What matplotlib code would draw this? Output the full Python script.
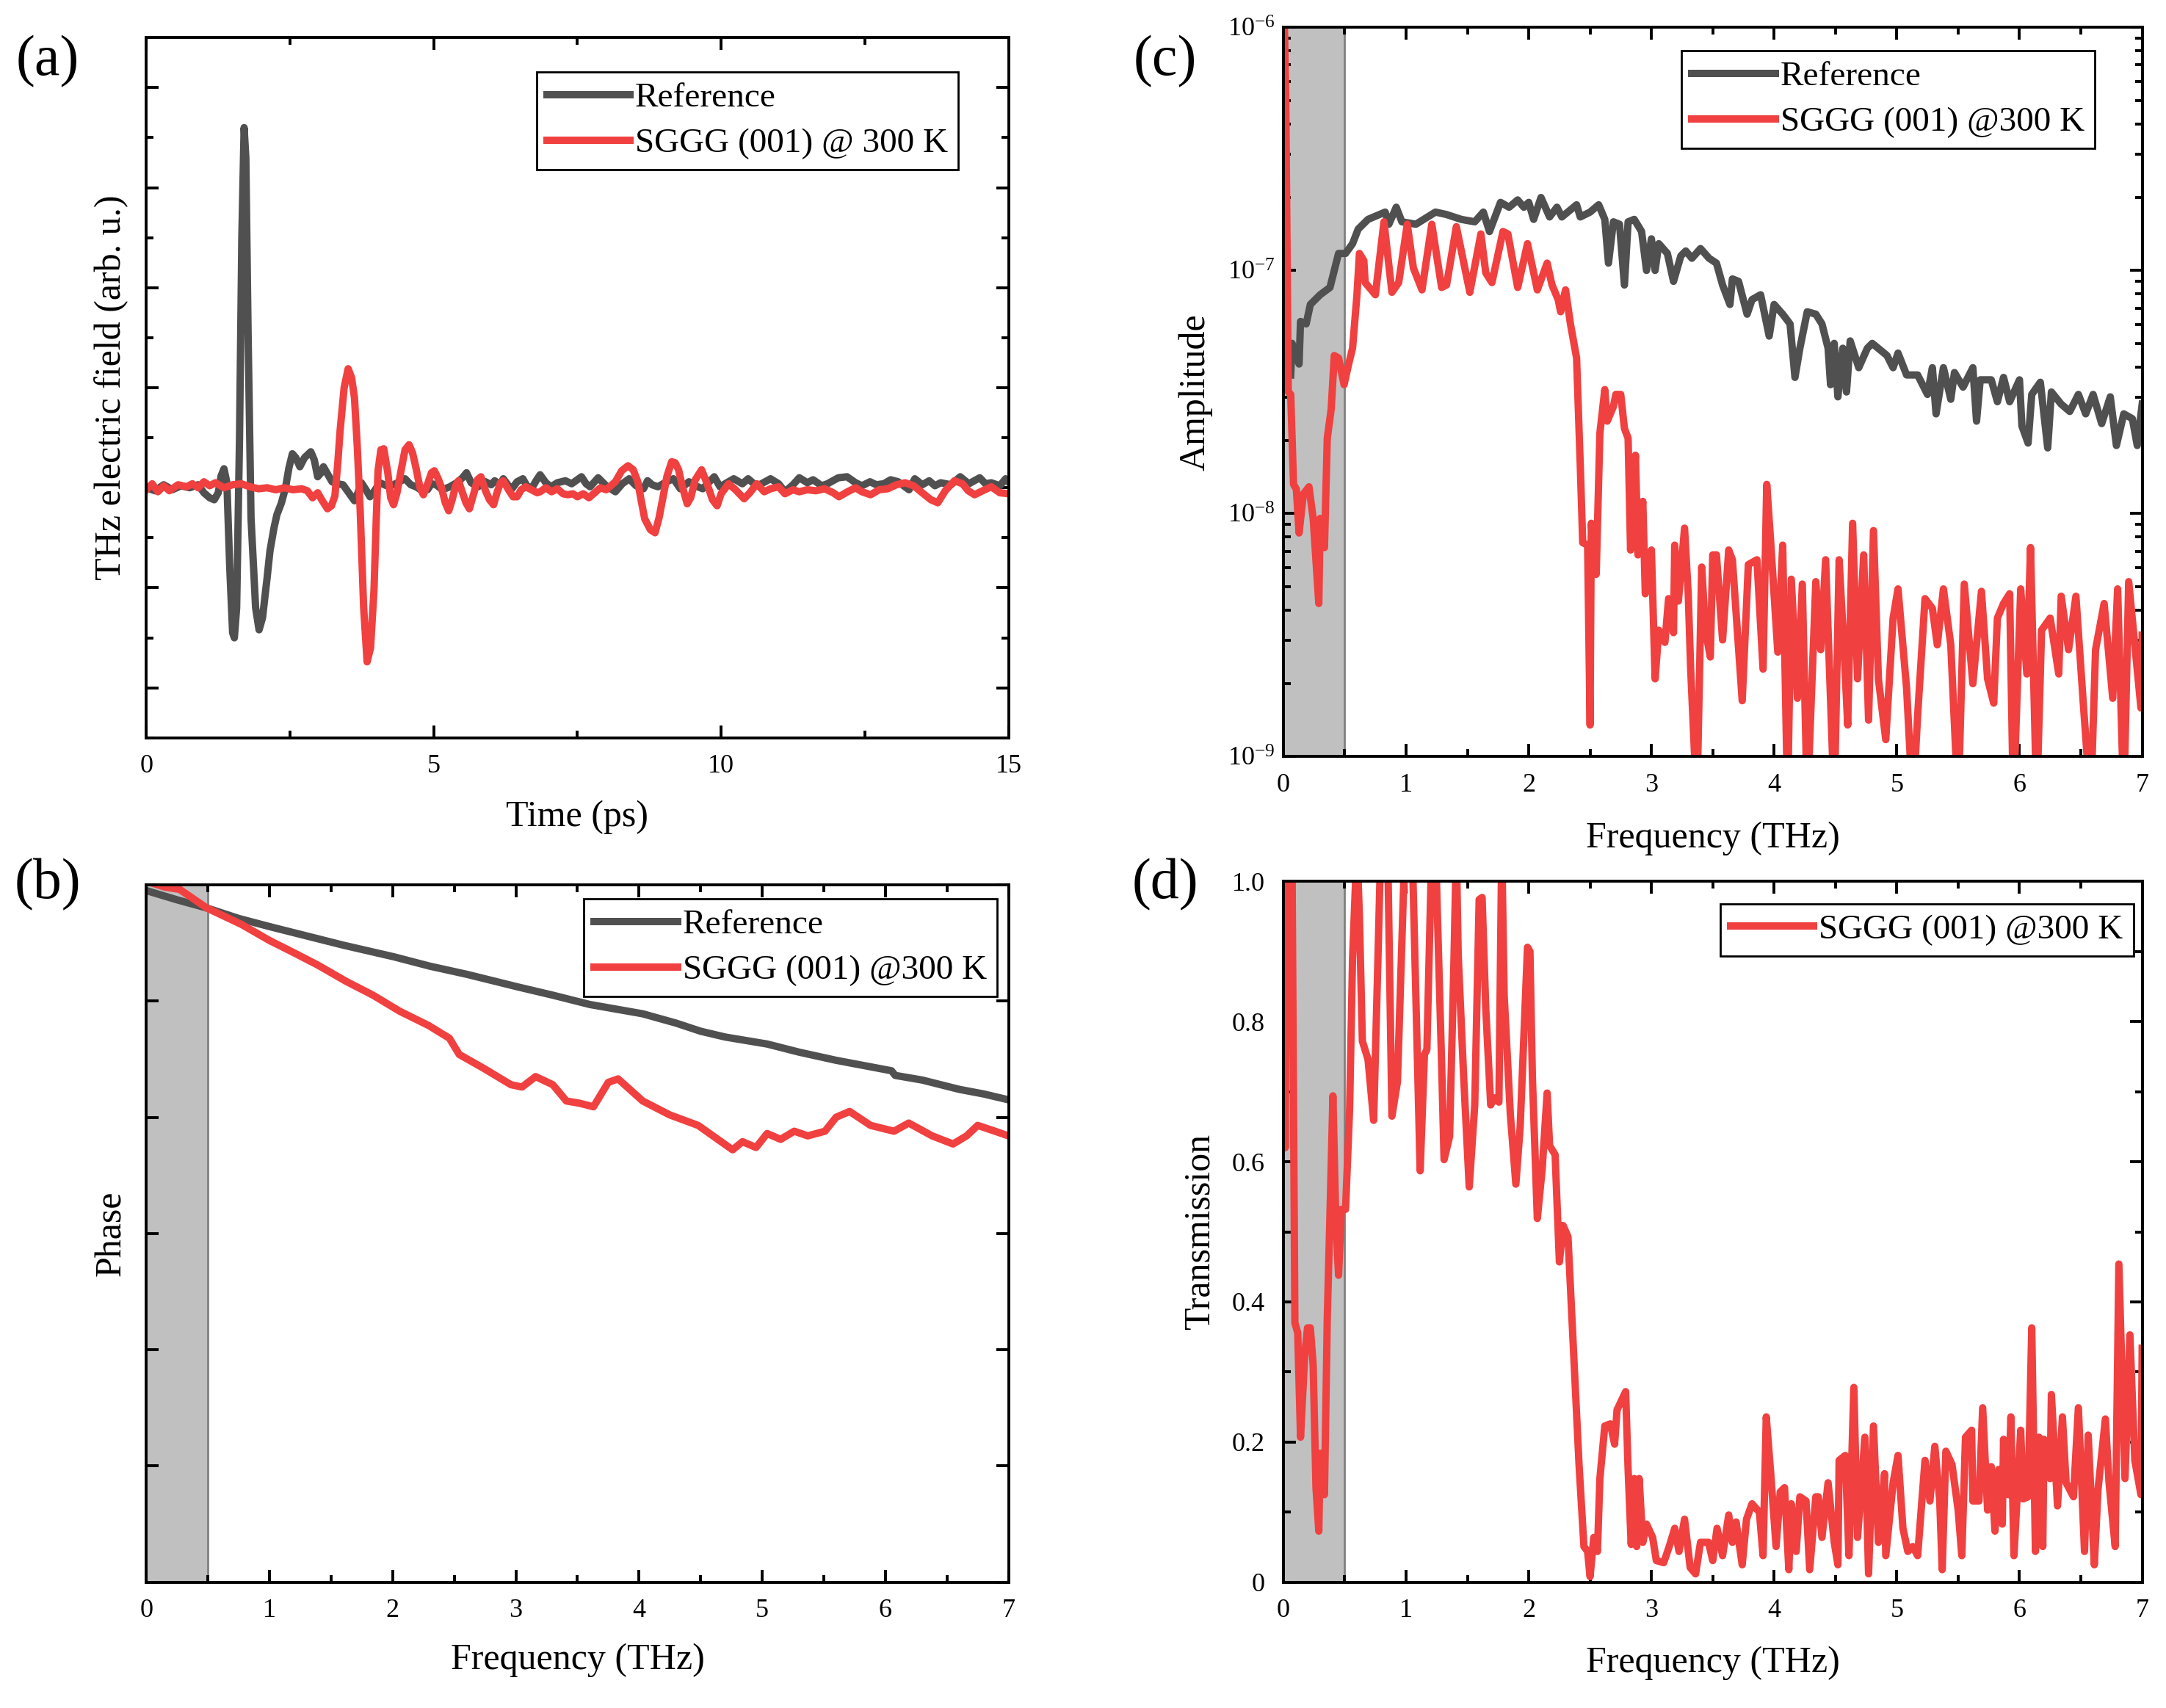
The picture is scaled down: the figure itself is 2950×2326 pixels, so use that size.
import matplotlib
matplotlib.use("Agg")
import matplotlib.pyplot as plt
from matplotlib.ticker import MultipleLocator, NullFormatter, LogLocator
import numpy as np

plt.rcParams['font.family'] = ['Liberation Serif', 'DejaVu Serif']
plt.rcParams['mathtext.fontset'] = 'stix'

GRAY = '#505050'
RED = '#f04040'
SPAN = '#c0c0c0'

# ---- (a) time domain, arb. units ----
t_ref = [0.0, 0.15, 0.3, 0.45, 0.6, 0.75, 0.9, 1.0, 1.1, 1.18, 1.25, 1.3, 1.35, 1.4, 1.45,
         1.5, 1.53, 1.57, 1.62, 1.66, 1.7, 1.73, 1.77, 1.82, 1.9, 1.96, 2.02, 2.1, 2.15, 2.22,
         2.27, 2.35, 2.42, 2.48, 2.54, 2.6, 2.67, 2.75, 2.86, 2.92, 2.98, 3.04, 3.08, 3.15,
         3.23, 3.32, 3.42, 3.52, 3.62, 3.68, 3.74, 3.82, 3.89, 3.97, 4.06, 4.18, 4.3, 4.4,
         4.5, 4.6, 4.69, 4.8, 4.89, 4.96, 5.04, 5.15, 5.28, 5.4, 5.5, 5.57, 5.65, 5.77, 5.9,
         6.0, 6.06, 6.15, 6.21, 6.3, 6.36, 6.45, 6.55, 6.62, 6.7, 6.78, 6.85, 6.95, 7.04,
         7.15, 7.29, 7.4, 7.57, 7.65, 7.72, 7.86, 8.0, 8.16, 8.28, 8.4, 8.52, 8.65, 8.72,
         8.8, 8.9, 9.05, 9.17, 9.29, 9.44, 9.55, 9.68, 9.88, 9.98, 10.1, 10.22, 10.37, 10.47,
         10.57, 10.67, 10.86, 11.0, 11.11, 11.25, 11.36, 11.5, 11.6, 11.75, 11.85, 12.04,
         12.19, 12.34, 12.45, 12.59, 12.7, 12.83, 12.95, 13.08, 13.27, 13.37, 13.5, 13.62,
         13.72, 13.82, 14.0, 14.16, 14.31, 14.5, 14.6, 14.7, 14.85, 14.95, 15.0]
e_ref = [0.0, -0.03, 0.03, -0.02, 0.02, 0.0, 0.03, -0.05, -0.1, -0.12, -0.05, 0.12, 0.19,
         0.05, -0.8, -1.45, -1.5, -1.2, 0.5, 2.5, 3.6, 3.3, 1.5, -0.3, -1.2, -1.42, -1.3,
         -0.9, -0.63, -0.4, -0.27, -0.15, 0.0, 0.2, 0.34, 0.3, 0.21, 0.3, 0.36, 0.28, 0.11,
         0.15, 0.21, 0.14, 0.06, 0.04, 0.03, -0.05, -0.13, -0.05, 0.05, -0.02, -0.09, -0.03,
         0.05, 0.02, 0.03, 0.06, 0.09, 0.03, 0.01, -0.03, -0.02, 0.04, 0.03, -0.02, 0.01,
         0.05, 0.1, 0.15, 0.05, 0.01, 0.06, 0.03, 0.07, 0.03, 0.09, 0.02, -0.01, 0.06, 0.09,
         0.02, -0.01, 0.07, 0.13, 0.05, 0.01, 0.05, 0.07, 0.04, 0.11, 0.04, 0.01, 0.1, 0.02,
         -0.04, 0.04, 0.09, 0.02, -0.01, 0.07, 0.03, 0.01, 0.06, 0.09, -0.01, 0.06, 0.02,
         -0.01, 0.11, 0.01, 0.05, 0.09, 0.04, 0.09, 0.04, 0.03, 0.09, 0.04, -0.04, 0.03,
         0.1, 0.05, 0.08, 0.02, 0.04, 0.1, 0.11, 0.05, 0.02, 0.06, 0.03, 0.04, 0.08, 0.06,
         -0.02, 0.09, 0.03, 0.07, 0.02, 0.05, 0.03, 0.11, 0.04, 0.1, 0.04, 0.05, 0.02, 0.09,
         0.06]

t_sam = [0.0, 0.1, 0.2, 0.3, 0.4, 0.55, 0.7, 0.8, 0.9, 1.0, 1.1, 1.2, 1.35, 1.5, 1.65, 1.8,
         1.95, 2.1, 2.25, 2.4, 2.55, 2.7, 2.8, 2.89, 2.98, 3.05, 3.15, 3.22, 3.28, 3.33, 3.37,
         3.44, 3.51, 3.57, 3.62, 3.67, 3.72, 3.78, 3.84, 3.9, 3.96, 4.0, 4.03, 4.08, 4.13,
         4.2, 4.25, 4.3, 4.36, 4.43, 4.5, 4.57, 4.63, 4.69, 4.76, 4.82, 4.9, 4.96, 5.01,
         5.07, 5.13, 5.2, 5.26, 5.32, 5.38, 5.43, 5.5, 5.56, 5.62, 5.7, 5.76, 5.82, 5.9,
         5.97, 6.04, 6.1, 6.16, 6.21, 6.3, 6.38, 6.45, 6.52, 6.6, 6.7, 6.8, 6.85, 6.95,
         7.05, 7.15, 7.25, 7.33, 7.42, 7.5, 7.6, 7.7, 7.8, 7.9, 8.0, 8.16, 8.27, 8.38, 8.47,
         8.55, 8.6, 8.67, 8.77, 8.85, 8.92, 8.99, 9.06, 9.14, 9.2, 9.26, 9.33, 9.41, 9.47,
         9.55, 9.66, 9.75, 9.85, 9.93, 10.0, 10.13, 10.25, 10.4, 10.5, 10.62, 10.75, 10.86,
         11.0, 11.11, 11.25, 11.36, 11.5, 11.65, 11.8, 11.95, 12.05, 12.2, 12.34, 12.45,
         12.6, 12.75, 12.9, 13.05, 13.2, 13.35, 13.52, 13.65, 13.77, 13.9, 14.06, 14.2,
         14.3, 14.41, 14.55, 14.7, 14.85, 15.0]
e_sam = [-0.02, 0.04, -0.04, 0.02, -0.03, 0.03, 0.01, 0.04, 0.0, 0.06, 0.02, 0.05, 0.0,
         0.03, 0.04, 0.01, -0.01, 0.0, -0.02, 0.0, -0.02, -0.01, -0.03, -0.1, -0.05, -0.12,
         -0.21, -0.18, -0.08, 0.25, 0.57, 1.0, 1.19, 1.1, 0.9, 0.4, -0.23, -1.2, -1.74,
         -1.6, -1.02, -0.3, 0.17, 0.38, 0.39, 0.15, -0.1, -0.17, -0.05, 0.17, 0.38, 0.43,
         0.35, 0.2, 0.0, -0.07, 0.05, 0.15, 0.17, 0.1, 0.01, -0.15, -0.23, -0.12, 0.02,
         0.07, -0.05, -0.15, -0.21, -0.05, 0.08, 0.11, -0.03, -0.12, -0.17, -0.05, 0.05,
         0.07, -0.02, -0.09, -0.09, -0.02, 0.01, -0.02, -0.05, -0.04, 0.0, -0.04, -0.01,
         -0.06, -0.07, -0.06, -0.09, -0.06, -0.1, -0.05, 0.0, -0.02, 0.06, 0.17, 0.22,
         0.18, 0.06, -0.1, -0.31, -0.42, -0.45, -0.3, -0.09, 0.12, 0.26, 0.25, 0.18, 0.0,
         -0.16, -0.1, 0.08, 0.18, 0.05, -0.12, -0.18, -0.06, 0.04, -0.02, -0.11, -0.05,
         0.04, -0.04, -0.01, 0.01, -0.06, -0.02, -0.04, -0.02, -0.03, -0.01, -0.05, -0.09,
         -0.04, 0.0, -0.04, -0.07, -0.02, -0.01, 0.03, 0.05, 0.02, -0.06, -0.12, -0.15,
         -0.03, 0.07, 0.04, -0.03, -0.07, -0.03, 0.01, -0.05, -0.06]

# ---- (b) phase, arb. units ----
f_ph_ref = [0.03, 0.25, 0.49, 0.75, 1.0, 1.3, 1.6, 2.01, 2.3, 2.6, 3.02, 3.3, 3.6, 4.03,
            4.3, 4.5, 4.7, 5.04, 5.3, 5.6, 6.05, 6.08, 6.3, 6.6, 6.8, 7.0]
ph_ref = [5.94, 5.87, 5.80, 5.71, 5.64, 5.56, 5.48, 5.38, 5.30, 5.23, 5.12, 5.05, 4.97,
          4.89, 4.81, 4.74, 4.69, 4.63, 4.56, 4.49, 4.40, 4.36, 4.32, 4.24, 4.20, 4.15]
f_ph_sam = [0.03, 0.15, 0.27, 0.49, 0.77, 1.0, 1.17, 1.39, 1.62, 1.84, 2.06, 2.29, 2.46,
            2.54, 2.74, 2.96, 3.05, 3.16, 3.3, 3.41, 3.52, 3.63, 3.75, 3.83, 4.03, 4.25,
            4.48, 4.64, 4.76, 4.84, 4.95, 5.04, 5.15, 5.26, 5.37, 5.51, 5.6, 5.71, 5.88,
            6.07, 6.19, 6.38, 6.55, 6.66, 6.75, 6.89, 7.0]
ph_sam = [6.02, 5.98, 5.96, 5.80, 5.66, 5.52, 5.43, 5.31, 5.17, 5.05, 4.91, 4.79, 4.68,
          4.54, 4.42, 4.28, 4.26, 4.35, 4.28, 4.14, 4.12, 4.09, 4.30, 4.33, 4.14, 4.02,
          3.93, 3.81, 3.72, 3.79, 3.74, 3.86, 3.81, 3.88, 3.84, 3.88, 4.00, 4.05, 3.93,
          3.88, 3.95, 3.84, 3.77, 3.84, 3.93, 3.88, 3.84]

# ---- (c) amplitude spectra, log10 values ----
f_amp_ref = [0.06, 0.071, 0.128, 0.14, 0.186, 0.22, 0.3, 0.38, 0.415, 0.45, 0.507, 0.564,
             0.61, 0.69, 0.83, 0.86, 0.92, 0.966, 1.08, 1.24, 1.33, 1.45, 1.56, 1.63, 1.68,
             1.77, 1.84, 1.91, 1.96, 2.0, 2.04, 2.1, 2.17, 2.23, 2.27, 2.39, 2.42, 2.5,
             2.57, 2.62, 2.65, 2.69, 2.74, 2.78, 2.81, 2.86, 2.92, 2.96, 3.0, 3.03, 3.06,
             3.13, 3.18, 3.24, 3.28, 3.33, 3.4, 3.47, 3.53, 3.58, 3.64, 3.66, 3.71, 3.78,
             3.82, 3.89, 3.96, 4.0, 4.07, 4.13, 4.17, 4.21, 4.27, 4.34, 4.39, 4.44, 4.46,
             4.49, 4.52, 4.56, 4.59, 4.62, 4.69, 4.76, 4.8, 4.92, 4.97, 5.01, 5.08, 5.17,
             5.25, 5.29, 5.32, 5.38, 5.44, 5.47, 5.54, 5.62, 5.65, 5.68, 5.77, 5.82, 5.87,
             5.92, 6.0, 6.02, 6.07, 6.1, 6.17, 6.23, 6.26, 6.34, 6.41, 6.48, 6.54, 6.6,
             6.67, 6.74, 6.79, 6.85, 6.92, 6.96, 7.0]
log_amp_ref = [-7.43, -7.30, -7.385, -7.21, -7.22, -7.14, -7.10, -7.07, -7.0, -6.93,
               -6.93, -6.89, -6.83, -6.79, -6.76, -6.81, -6.74, -6.80, -6.81, -6.76,
               -6.77, -6.79, -6.80, -6.76, -6.84, -6.72, -6.74, -6.71, -6.74, -6.72,
               -6.79, -6.70, -6.78, -6.74, -6.78, -6.73, -6.78, -6.76, -6.73, -6.79,
               -6.97, -6.80, -6.81, -7.06, -6.80, -6.79, -6.84, -7.0, -6.87, -7.0, -6.89,
               -6.93, -7.045, -6.94, -6.92, -6.95, -6.91, -6.95, -6.97, -7.06, -7.14,
               -7.035, -7.045, -7.18, -7.12, -7.10, -7.27, -7.14, -7.18, -7.22, -7.44,
               -7.32, -7.17, -7.18, -7.22, -7.32, -7.47, -7.30, -7.52, -7.32, -7.50,
               -7.29, -7.40, -7.32, -7.30, -7.35, -7.40, -7.34, -7.43, -7.43, -7.51,
               -7.40, -7.59, -7.40, -7.53, -7.42, -7.48, -7.40, -7.62, -7.45, -7.45,
               -7.54, -7.44, -7.54, -7.45, -7.64, -7.71, -7.51, -7.46, -7.73, -7.50,
               -7.55, -7.58, -7.51, -7.59, -7.51, -7.63, -7.52, -7.72, -7.59, -7.61,
               -7.72, -7.55]
f_amp_sam = [0.005, 0.02, 0.03, 0.04, 0.06, 0.083, 0.106, 0.128, 0.163, 0.209, 0.243,
             0.289, 0.3, 0.335, 0.358, 0.39, 0.415, 0.45, 0.495, 0.53, 0.564, 0.6, 0.62,
             0.656, 0.667, 0.75, 0.82, 0.885, 0.94, 1.01, 1.06, 1.13, 1.21, 1.29, 1.33,
             1.41, 1.52, 1.61, 1.65, 1.7, 1.79, 1.83, 1.91, 1.99, 2.07, 2.15, 2.19, 2.24,
             2.26, 2.3, 2.34, 2.39, 2.42, 2.44, 2.48, 2.5, 2.51, 2.55, 2.58, 2.62, 2.64,
             2.69, 2.71, 2.75, 2.78, 2.81, 2.83, 2.87, 2.89, 2.93, 2.95, 3.0, 3.03, 3.06,
             3.11, 3.14, 3.18, 3.19, 3.22, 3.27, 3.3, 3.32, 3.37, 3.41, 3.44, 3.48, 3.5,
             3.53, 3.58, 3.63, 3.66, 3.74, 3.79, 3.86, 3.91, 3.94, 3.97, 4.03, 4.07, 4.11,
             4.14, 4.19, 4.23, 4.27, 4.34, 4.38, 4.42, 4.49, 4.53, 4.57, 4.6, 4.64, 4.68,
             4.73, 4.77, 4.81, 4.85, 4.91, 4.97, 5.01, 5.08, 5.13, 5.17, 5.23, 5.29, 5.33,
             5.38, 5.44, 5.5, 5.55, 5.62, 5.69, 5.74, 5.79, 5.82, 5.87, 5.92, 5.95, 6.01,
             6.06, 6.09, 6.14, 6.18, 6.25, 6.32, 6.34, 6.4, 6.46, 6.52, 6.58, 6.62, 6.69,
             6.76, 6.8, 6.85, 6.89, 6.94, 6.99, 7.0]
log_amp_sam = [-5.9, -6.3, -6.9, -7.5, -7.51, -7.88, -7.90, -8.08, -7.92, -7.89, -8.02,
               -8.37, -8.02, -8.14, -7.69, -7.57, -7.35, -7.36, -7.47, -7.39, -7.32,
               -7.10, -6.93, -6.96, -7.05, -7.10, -6.80, -7.09, -7.05, -6.81, -6.99,
               -7.08, -6.81, -7.07, -7.06, -6.82, -7.09, -6.85, -7.01, -7.05, -6.84,
               -6.85, -7.07, -6.89, -7.08, -6.97, -7.06, -7.12, -7.17, -7.08, -7.22,
               -7.36, -7.80, -8.12, -8.13, -8.87, -8.04, -8.25, -7.67, -7.49, -7.62,
               -7.56, -7.51, -7.51, -7.65, -7.69, -8.15, -7.76, -8.17, -7.95, -8.33,
               -8.15, -8.68, -8.48, -8.53, -8.35, -8.49, -8.13, -8.36, -8.06, -8.33,
               -8.64, -9.2, -8.22, -8.48, -8.59, -8.17, -8.17, -8.52, -8.15, -8.19,
               -8.77, -8.21, -8.19, -8.64, -7.88, -8.10, -8.57, -8.13, -9.2, -8.27,
               -8.76, -8.29, -9.2, -8.28, -8.56, -8.19, -9.2, -8.19, -8.56, -8.87, -8.04,
               -8.68, -8.17, -8.85, -8.07, -8.68, -8.93, -8.43, -8.31, -8.72, -9.2, -8.83,
               -8.35, -8.39, -8.54, -8.31, -8.54, -9.2, -8.29, -8.70, -8.32, -8.68, -8.78,
               -8.43, -8.37, -8.33, -9.2, -8.31, -8.66, -8.14, -9.2, -8.48, -8.43, -8.66,
               -8.34, -8.56, -8.34, -8.78, -9.2, -8.56, -8.37, -8.76, -8.31, -9.2, -8.28,
               -8.54, -8.80, -8.50]

# ---- (d) transmission ----
f_tr = [0.0, 0.015, 0.03, 0.05, 0.07, 0.094, 0.117, 0.14, 0.174, 0.197, 0.22, 0.243,
        0.266, 0.289, 0.3, 0.335, 0.358, 0.38, 0.404, 0.427, 0.45, 0.472, 0.507, 0.54,
        0.564, 0.6, 0.62, 0.644, 0.69, 0.736, 0.77, 0.794, 0.85, 0.885, 0.93, 0.977,
        0.99, 1.05, 1.115, 1.15, 1.17, 1.21, 1.24, 1.29, 1.31, 1.355, 1.39, 1.41, 1.425,
        1.47, 1.515, 1.56, 1.596, 1.62, 1.65, 1.69, 1.72, 1.757, 1.78, 1.8, 1.85, 1.895,
        1.93, 1.99, 2.01, 2.03, 2.07, 2.11, 2.15, 2.17, 2.215, 2.25, 2.28, 2.32, 2.365,
        2.41, 2.45, 2.48, 2.5, 2.53, 2.56, 2.58, 2.62, 2.665, 2.7, 2.72, 2.755, 2.79,
        2.81, 2.835, 2.86, 2.88, 2.9, 2.93, 2.96, 3.01, 3.04, 3.1, 3.145, 3.19, 3.225,
        3.27, 3.316, 3.36, 3.4, 3.465, 3.5, 3.535, 3.58, 3.63, 3.66, 3.69, 3.74, 3.775,
        3.82, 3.88, 3.91, 3.936, 3.97, 4.016, 4.05, 4.085, 4.12, 4.14, 4.18, 4.21, 4.26,
        4.29, 4.34, 4.36, 4.39, 4.44, 4.49, 4.52, 4.53, 4.58, 4.61, 4.65, 4.68, 4.74,
        4.77, 4.81, 4.85, 4.9, 4.91, 4.97, 5.01, 5.05, 5.09, 5.13, 5.17, 5.23, 5.27,
        5.31, 5.35, 5.37, 5.4, 5.45, 5.5, 5.53, 5.56, 5.61, 5.62, 5.67, 5.7, 5.74, 5.77,
        5.8, 5.83, 5.86, 5.87, 5.91, 5.93, 5.955, 6.01, 6.03, 6.07, 6.1, 6.13, 6.16,
        6.19, 6.2, 6.25, 6.26, 6.31, 6.35, 6.38, 6.44, 6.48, 6.53, 6.56, 6.61, 6.64,
        6.7, 6.73, 6.78, 6.81, 6.86, 6.9, 6.94, 6.99, 7.0]
tr = [0.95, 0.62, 1.05, 0.9, 1.05, 0.37, 0.356, 0.207, 0.324, 0.363, 0.363, 0.31, 0.135,
      0.073, 0.184, 0.125, 0.376, 0.525, 0.694, 0.519, 0.438, 0.532, 0.532, 0.675, 0.89,
      1.05, 0.95, 0.772, 0.746, 0.659, 0.883, 1.05, 1.05, 0.665, 0.714, 0.974, 1.05, 1.05,
      0.587, 0.753, 0.76, 1.05, 1.05, 0.74, 0.603, 0.636, 0.883, 1.05, 0.896, 0.72, 0.564,
      0.681, 0.974, 0.977, 0.818, 0.681, 0.691, 0.685, 1.05, 0.837, 0.668, 0.568, 0.649,
      0.906, 0.9, 0.72, 0.519, 0.59, 0.698, 0.623, 0.61, 0.457, 0.509, 0.493, 0.33, 0.168,
      0.051, 0.044, 0.008, 0.064, 0.044, 0.148, 0.223, 0.226, 0.197, 0.246, 0.259, 0.272,
      0.161, 0.054, 0.148, 0.051, 0.148, 0.057, 0.083, 0.064, 0.031, 0.028, 0.051, 0.077,
      0.044, 0.09, 0.021, 0.012, 0.057, 0.057, 0.031, 0.077, 0.038, 0.096, 0.057, 0.086,
      0.025, 0.09, 0.112, 0.1, 0.038, 0.236, 0.161, 0.051, 0.129, 0.135, 0.018, 0.112,
      0.044, 0.122, 0.116, 0.018, 0.122, 0.122, 0.064, 0.142, 0.057, 0.025, 0.174, 0.181,
      0.038, 0.278, 0.064, 0.207, 0.012, 0.223, 0.057, 0.155, 0.038, 0.142, 0.181, 0.077,
      0.044, 0.051, 0.038, 0.174, 0.116, 0.194, 0.116, 0.018, 0.187, 0.168, 0.103, 0.038,
      0.207, 0.217, 0.116, 0.116, 0.249, 0.103, 0.165, 0.073, 0.161, 0.083, 0.204, 0.125,
      0.236, 0.038, 0.217, 0.119, 0.122, 0.363, 0.044, 0.207, 0.051, 0.204, 0.148, 0.268,
      0.109, 0.236, 0.142, 0.122, 0.249, 0.044, 0.21, 0.025, 0.132, 0.233, 0.142, 0.051,
      0.454, 0.148, 0.353, 0.174, 0.125, 0.334]

fig = plt.figure(figsize=(14.75, 11.63), dpi=200)
ax_a = fig.add_axes([0.0676, 0.568, 0.398, 0.410])
ax_c = fig.add_axes([0.5925, 0.557, 0.3965, 0.427])
ax_b = fig.add_axes([0.0676, 0.0736, 0.398, 0.4084])
ax_d = fig.add_axes([0.5925, 0.0736, 0.3965, 0.4104])

LW = 3.6
TICK_FS = 13
LAB_FS = 18
LEG_FS = 17


def style(ax):
    for s in ax.spines.values():
        s.set_linewidth(1.4)
    ax.tick_params(which='both', direction='in', top=True, right=True,
                   labelsize=TICK_FS, width=1.4)
    ax.tick_params(which='major', length=6)
    ax.tick_params(which='minor', length=3.5)
    ax.tick_params(axis='x', pad=8)


def legend(ax, anchor):
    lg = ax.legend(loc='upper right', bbox_to_anchor=anchor, fontsize=LEG_FS,
                   frameon=True, fancybox=False, framealpha=1, edgecolor='black',
                   handlelength=2.4, handletextpad=0.15, borderpad=0.3,
                   borderaxespad=0, labelspacing=0.4)
    lg.get_frame().set_linewidth(1.0)


def span(ax):
    ax.axvspan(0, 0.5, color=SPAN, zorder=0, lw=0)
    ax.axvline(0.5, color='#808080', lw=1.0, zorder=0.5)


# (a)
ax_a.plot(t_ref, e_ref, color=GRAY, lw=LW, label='Reference')
ax_a.plot(t_sam, e_sam, color=RED, lw=LW, label='SGGG (001) @ 300 K')
ax_a.set_xlim(0, 15)
ax_a.set_ylim(-2.5, 4.5)
ax_a.xaxis.set_major_locator(MultipleLocator(5))
ax_a.xaxis.set_minor_locator(MultipleLocator(2.5))
ax_a.yaxis.set_major_locator(MultipleLocator(1))
ax_a.yaxis.set_minor_locator(MultipleLocator(0.5))
ax_a.yaxis.set_major_formatter(NullFormatter())
style(ax_a)
ax_a.set_xlabel('Time (ps)', fontsize=LAB_FS, va='top')
ax_a.set_ylabel('THz electric field (arb. u.)', fontsize=LAB_FS)
ax_a.xaxis.set_label_coords(0.5, -0.089)
ax_a.yaxis.set_label_coords(-0.021, 0.5)
legend(ax_a, (0.942, 0.951))

# (b)
span(ax_b)
ax_b.plot(f_ph_ref, ph_ref, color=GRAY, lw=LW, label='Reference')
ax_b.plot(f_ph_sam, ph_sam, color=RED, lw=LW, label='SGGG (001) @300 K')
ax_b.set_xlim(0, 7)
ax_b.set_ylim(0, 6)
ax_b.xaxis.set_major_locator(MultipleLocator(1))
ax_b.xaxis.set_minor_locator(MultipleLocator(0.5))
ax_b.yaxis.set_major_locator(MultipleLocator(1))
ax_b.yaxis.set_major_formatter(NullFormatter())
style(ax_b)
ax_b.set_xlabel('Frequency (THz)', fontsize=LAB_FS, va='top')
ax_b.set_ylabel('Phase', fontsize=LAB_FS)
ax_b.xaxis.set_label_coords(0.5, -0.087)
ax_b.yaxis.set_label_coords(-0.021, 0.5)
legend(ax_b, (0.987, 0.980))

# (c)
span(ax_c)
ax_c.plot(f_amp_ref, 10 ** np.array(log_amp_ref), color=GRAY, lw=LW, label='Reference')
ax_c.plot(f_amp_sam, 10 ** np.array(log_amp_sam), color=RED, lw=LW, label='SGGG (001) @300 K')
ax_c.set_yscale('log')
ax_c.set_xlim(0, 7)
ax_c.set_ylim(1e-9, 1e-6)
ax_c.xaxis.set_major_locator(MultipleLocator(1))
ax_c.xaxis.set_minor_locator(MultipleLocator(0.5))
ax_c.yaxis.set_major_locator(LogLocator(base=10, numticks=10))
ax_c.yaxis.set_minor_locator(LogLocator(base=10, subs=np.arange(2, 10), numticks=10))
ax_c.yaxis.set_minor_formatter(NullFormatter())
style(ax_c)
ax_c.tick_params(axis='y', pad=4)
ax_c.set_xlabel('Frequency (THz)', fontsize=LAB_FS, va='top')
ax_c.set_ylabel('Amplitude', fontsize=LAB_FS)
ax_c.xaxis.set_label_coords(0.5, -0.089)
ax_c.yaxis.set_label_coords(-0.082, 0.5)
legend(ax_c, (0.945, 0.968))

# (d)
span(ax_d)
ax_d.plot(f_tr, tr, color=RED, lw=LW, label='SGGG (001) @300 K')
ax_d.set_xlim(0, 7)
ax_d.set_ylim(0, 1.0)
ax_d.xaxis.set_major_locator(MultipleLocator(1))
ax_d.xaxis.set_minor_locator(MultipleLocator(0.5))
ax_d.set_yticks([0, 0.2, 0.4, 0.6, 0.8, 1.0])
ax_d.set_yticklabels(['0', '0.2', '0.4', '0.6', '0.8', '1.0'])
ax_d.yaxis.set_minor_locator(MultipleLocator(0.1))
style(ax_d)
ax_d.tick_params(axis='y', pad=9)
ax_d.set_xlabel('Frequency (THz)', fontsize=LAB_FS, va='top')
ax_d.set_ylabel('Transmission', fontsize=LAB_FS)
ax_d.xaxis.set_label_coords(0.5, -0.091)
ax_d.yaxis.set_label_coords(-0.077, 0.5)
legend(ax_d, (0.990, 0.968))

for lab, x, y in [('(a)', 0.022, 0.964), ('(b)', 0.022, 0.482),
                  ('(c)', 0.538, 0.964), ('(d)', 0.538, 0.482)]:
    fig.text(x, y, lab, fontsize=28, ha='center', va='center')

fig.savefig('out.png', dpi=200)
